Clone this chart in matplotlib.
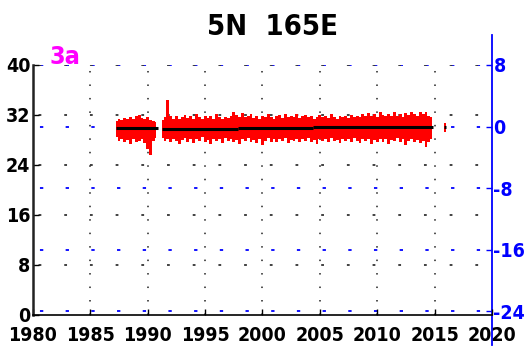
import numpy as np
import matplotlib
matplotlib.use("Agg")
import matplotlib.pyplot as plt
from matplotlib import font_manager
from matplotlib.font_manager import FontProperties

plt.rcParams['lines.scale_dashes'] = False

# prefer a condensed bold face for the crowded tick labels
_narrow = [f for f in font_manager.fontManager.ttflist
           if ('Narrow' in f.name or f.stretch == 'condensed'
               or 'Condensed' in f.fname) and f.weight in ('bold', 700)]
FONT_FILE = _narrow[0].fname if _narrow else None


def font(size):
    if FONT_FILE:
        return FontProperties(fname=FONT_FILE, size=size)
    return FontProperties(family='Liberation Sans', weight='bold', size=size)


# ---- data -------------------------------------------------------------
title = "5N  165E"
panel_tag = "3a"

x_ticks = [1980, 1985, 1990, 1995, 2000, 2005, 2010, 2015, 2020]
left_ticks = [0, 8, 16, 24, 32, 40]
right_ticks = [-24, -16, -8, 0, 8]

# daily SST envelope, sampled every quarter year (upper / lower bounds, deg C)
seg1_start = 1987.25
seg1_upper = [31.0, 31.4, 31.2, 31.5, 31.3, 31.6, 31.4, 31.8, 32.0, 31.5,
              31.3, 31.7, 31.2, 31.0, 30.8]
seg1_lower = [28.4, 27.8, 28.2, 27.6, 28.0, 27.4, 28.1, 27.7, 27.9, 28.2,
              27.5, 26.6, 25.6, 27.8, 28.3]

seg2_start = 1991.25
seg2_upper = [31.2, 31.6, 34.4, 31.8, 31.4, 31.9, 31.3, 31.6, 32.0, 31.5,
              31.8, 31.4, 32.1, 31.6, 31.3, 31.9, 31.5, 31.8, 31.4, 32.2,
              31.6, 31.3, 31.7, 31.5, 31.9, 32.4, 32.0, 31.7, 32.3, 31.6,
              31.9, 32.2, 31.5, 31.8, 31.4, 31.9, 31.6, 32.1, 31.7, 31.4,
              31.8, 32.0, 31.5, 32.2, 31.7, 31.9, 31.6, 32.1, 31.5, 31.8,
              32.0, 31.6, 31.9, 31.4, 31.7, 32.0, 31.6, 31.8, 31.5, 32.1,
              31.7, 31.4, 31.9, 31.6, 31.8, 31.5, 32.0, 31.7, 31.9, 31.6,
              32.2, 31.8, 32.3, 31.9, 32.1, 31.7, 32.4, 32.0, 31.8, 32.2,
              31.9, 32.4, 31.8, 32.1, 31.7, 32.3, 32.0, 32.5, 32.2, 31.9,
              32.4, 32.1, 32.5, 31.9, 31.6]
seg2_lower = [28.3, 27.8, 28.1, 27.6, 28.2, 27.9, 27.4, 28.0, 28.3, 27.7,
              28.1, 27.5, 28.2, 27.9, 28.4, 27.6, 28.0, 27.3, 28.2, 27.8,
              28.1, 27.5, 28.3, 27.9, 28.2, 27.6, 28.0, 27.4, 28.1, 27.8,
              28.3, 27.7, 28.0, 27.5, 28.2, 27.2, 27.9, 28.3, 27.7, 28.1,
              27.6, 28.2, 27.9, 28.3, 27.5, 28.0, 27.8, 28.2, 27.6, 28.1,
              27.9, 28.3, 27.7, 28.0, 27.4, 28.2, 27.8, 28.1, 27.6, 28.3,
              27.9, 28.0, 27.5, 28.2, 27.8, 28.1, 27.6, 28.3, 27.9, 27.5,
              28.2, 27.8, 28.1, 27.3, 28.0, 27.7, 28.2, 27.6, 28.1, 27.4,
              28.0, 27.8, 28.3, 27.6, 28.1, 27.2, 27.9, 28.2, 27.7, 28.0,
              27.5, 27.8, 26.9, 27.6, 28.2]

# short record after the main gap
seg3_years = [2015.8, 2016.0]
seg3_upper = [30.7, 30.7]
seg3_lower = [29.3, 29.3]

# running mean (start year, end year, value)
mean_start = [1987.2, 1991.2, 1997.9, 2004.4, 2015.8]
mean_end = [1990.9, 1997.9, 2004.4, 2014.9, 2016.0]
mean_value = [29.9, 29.7, 29.95, 30.05, 30.0]

# ---- figure -------------------------------------------------------------
fig = plt.figure(figsize=(5.28, 3.5), dpi=100)
ax = fig.add_axes([0.0625, 0.1, 0.8693, 0.7143])
ax2 = ax.twinx()
# keep the data axes above the anomaly axes so its grid stays underneath
ax.set_zorder(ax2.get_zorder() + 1)
ax.patch.set_visible(False)

BLUE = '#0000ff'
RED = '#ff0000'

step = 0.25
for start, up, lo in [(seg1_start, seg1_upper, seg1_lower),
                      (seg2_start, seg2_upper, seg2_lower)]:
    yrs = start + step * np.arange(len(up))
    ax.fill_between(yrs, lo, up, step='mid', color=RED, lw=0, zorder=3)
ax.fill_between(seg3_years, seg3_lower, seg3_upper, color=RED, lw=0, zorder=3)

for s, e, v in zip(mean_start, mean_end, mean_value):
    ax.plot([s, e], [v, v], color='black', lw=2.2, zorder=4,
            solid_capstyle='butt')

ax.set_xlim(1980, 2020)
ax.set_ylim(0, 40)
ax2.set_ylim(-24.5, 8)

# sparse dotted grids
for yv in left_ticks[1:]:
    ax.plot([1980, 2020], [yv, yv], color='#333333', lw=1.3,
            ls=(14.5, (2.0, 16.5)), zorder=1)
for xv in x_ticks[1:-1]:
    ax.plot([xv, xv], [0, 40], color='#333333', lw=1.2,
            ls=(0, (1.1, 8.6)), zorder=1)
for yv in right_ticks:
    ax2.plot([1980, 2020], [yv, yv], color=BLUE, lw=1.3,
             ls=(-5.0, (2.4, 16.1)), zorder=1)

# spines
for sp in ['top', 'right']:
    ax.spines[sp].set_visible(False)
for sp in ['top', 'left', 'bottom', 'right']:
    ax2.spines[sp].set_visible(False)
ax.spines['left'].set_color('#222222')
ax.spines['left'].set_linewidth(1.8)
ax.spines['bottom'].set_color('black')
ax.spines['bottom'].set_linewidth(1.2)
ax2.plot([1.0, 1.0], [-0.12, 1.12], transform=ax2.transAxes, color=BLUE,
         lw=1.3, clip_on=False, zorder=5)

TICK_SIZE = 14
ax.set_xticks(x_ticks)
ax.set_xticklabels([str(t) for t in x_ticks], fontproperties=font(TICK_SIZE))
ax.set_yticks(left_ticks)
ax.set_yticklabels([str(t) for t in left_ticks], fontproperties=font(TICK_SIZE))
ax.tick_params(axis='x', direction='in', length=4, width=1, pad=8, colors='black')
ax.tick_params(axis='y', direction='in', length=4, width=1, pad=2, colors='black')

ax2.set_yticks(right_ticks)
ax2.set_yticklabels([str(t) for t in right_ticks], fontproperties=font(TICK_SIZE))
ax2.tick_params(axis='y', direction='in', length=4, width=1, pad=1,
                colors=BLUE, labelcolor=BLUE)

fig.text(0.517, 0.923, title, ha='center', va='center',
         fontproperties=font(21), color='black')
ax.text(0.035, 1.03, panel_tag, transform=ax.transAxes, ha='left',
        va='center', fontproperties=font(18), color='#ff00ff', zorder=6)

fig.savefig('out.png', dpi=100)
